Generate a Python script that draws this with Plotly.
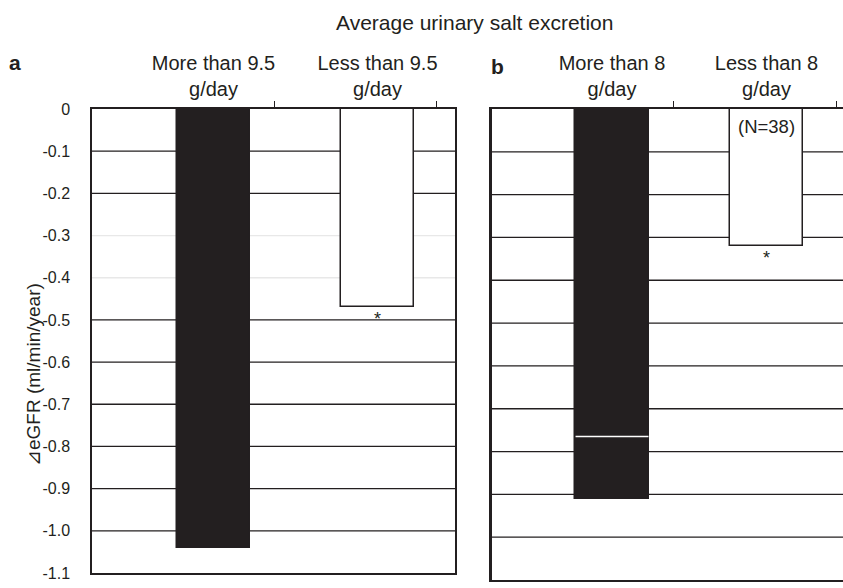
import plotly.graph_objects as go

# ---- data -------------------------------------------------------------
groups_a = ["More than 9.5<br>g/day", "Less than 9.5<br>g/day"]
groups_b = ["More than 8<br>g/day", "Less than 8<br>g/day"]
delta_egfr_a = [-1.04, -0.47]
delta_egfr_b = [-0.91, -0.32]
inner_mark_b = -0.765          # white rule inside the first bar of panel b
n_label_b = "(N=38)"
significant = [False, True]

y_ticks = [0, -0.1, -0.2, -0.3, -0.4, -0.5, -0.6, -0.7, -0.8, -0.9, -1.0, -1.1]
y_ticktext = ["0", "-0.1", "-0.2", "-0.3", "-0.4", "-0.5", "-0.6", "-0.7",
              "-0.8", "-0.9", "-1.0", "-1.1"]
grid_levels = [-0.1, -0.2, -0.3, -0.4, -0.5, -0.6, -0.7, -0.8, -0.9, -1.0]
faint_levels_a = [-0.3, -0.4]

# ---- styling ----------------------------------------------------------
INK = "#231f20"
FAINT = "#e8e8e8"
FONT = "Liberation Sans, Arial, Helvetica, sans-serif"
W, H = 843, 588

positions = [0, 1]
fills = [INK, "white"]

fig = go.Figure()


def add_panel(values, xa, ya, width):
    for pos, val, fill in zip(positions, values, fills):
        fig.add_trace(go.Bar(
            x=[pos], y=[val], width=width,
            marker=dict(color=fill, line=dict(color=INK, width=1.5)),
            xaxis=xa, yaxis=ya, showlegend=False, hoverinfo="skip",
        ))


add_panel(delta_egfr_a, "x", "y", 0.445)
add_panel(delta_egfr_b, "x2", "y2", 0.475)

# white rule across the dark bar in panel b
fig.add_trace(go.Scatter(
    x=[positions[0] - 0.236, positions[0] + 0.236], y=[inner_mark_b, inner_mark_b],
    mode="lines", line=dict(color="white", width=1.5),
    xaxis="x2", yaxis="y2", showlegend=False, hoverinfo="skip",
))

# transparent carriers so the group-label axes are drawn
for xa, ya in (("x3", "y"), ("x4", "y2")):
    fig.add_trace(go.Scatter(
        x=positions, y=[0, 0], mode="markers", marker=dict(opacity=0),
        xaxis=xa, yaxis=ya, showlegend=False, hoverinfo="skip",
    ))

# ---- axes -------------------------------------------------------------
dom_a = [92 / W, 455 / W]
dom_b = [492 / W, 1.0]
ydom_a = [1 - 573 / H, 1 - 109 / H]
ydom_b = [1 - 580 / H, 1 - 109 / H]

edge = dict(showline=True, linecolor=INK, zeroline=False, showgrid=False,
            automargin=False)
label_axis = dict(side="top", ticks="", showline=False, showgrid=False,
                  zeroline=False, automargin=False,
                  tickfont=dict(size=20, color=INK), ticklabelstandoff=8)

fig.update_layout(
    width=W, height=H,
    margin=dict(l=0, r=0, t=0, b=0),
    paper_bgcolor="white", plot_bgcolor="white",
    font=dict(family=FONT, color=INK),
    bargap=0,
    # panel a
    xaxis=dict(domain=dom_a, range=[-0.741, 1.4726], side="top", anchor="y",
               tickvals=[0.369, 1.357], ticks="outside", ticklen=6,
               tickcolor=INK, tickwidth=1, showticklabels=False,
               mirror=True, linewidth=2, **edge),
    xaxis3=dict(domain=dom_a, range=[-0.741, 1.4726], overlaying="x", anchor="y",
                tickvals=positions, ticktext=groups_a, **label_axis),
    yaxis=dict(domain=ydom_a, range=[-1.1, 0], anchor="x",
               tickvals=y_ticks, ticktext=y_ticktext, ticks="",
               tickfont=dict(size=16, color=INK), ticklabelstandoff=17,
               mirror=True, linewidth=1.5, **edge),
    # panel b
    xaxis2=dict(domain=dom_b, range=[-0.7767, 1.4951], side="top", anchor="y2",
                tickvals=[0.395, 1.45], ticks="outside", ticklen=6,
                tickcolor=INK, tickwidth=1, showticklabels=False,
                mirror=True, linewidth=2, **edge),
    xaxis4=dict(domain=dom_b, range=[-0.7767, 1.4951], overlaying="x2", anchor="y2",
                tickvals=positions, ticktext=groups_b, **label_axis),
    yaxis2=dict(domain=ydom_b, range=[-1.1, 0], anchor="x2",
                showticklabels=False, ticks="", linewidth=2.5, **edge),
)

# ---- horizontal rules behind the bars ---------------------------------
for lvl in grid_levels:
    fig.add_shape(type="line", xref="x domain", yref="y", x0=0, x1=1,
                  y0=lvl, y1=lvl, layer="below",
                  line=dict(color=FAINT if lvl in faint_levels_a else INK, width=1.3))
    fig.add_shape(type="line", xref="x2 domain", yref="y2", x0=0, x1=1,
                  y0=lvl, y1=lvl, layer="below", line=dict(color=INK, width=1.3))

# ---- text ---------------------------------------------------------------
for pos, val, sig in zip(positions, delta_egfr_a, significant):
    if sig:
        fig.add_annotation(x=pos, y=val, xref="x", yref="y", text="*",
                           showarrow=False, yanchor="top", yshift=0,
                           font=dict(size=18, color=INK))
for pos, val, sig in zip(positions, delta_egfr_b, significant):
    if sig:
        fig.add_annotation(x=pos, y=val, xref="x2", yref="y2", text="*",
                           showarrow=False, yanchor="top", yshift=0,
                           font=dict(size=18, color=INK))

fig.add_annotation(x=positions[1], y=0, xref="x2", yref="y2", text=n_label_b,
                   showarrow=False, yanchor="top", yshift=-5,
                   font=dict(size=18.5, color=INK))


def paper_text(text, px, py, size, angle=0):
    fig.add_annotation(x=px / W, y=1 - py / H, xref="paper", yref="paper",
                       xanchor="center", yanchor="middle", text=text,
                       textangle=angle, showarrow=False,
                       font=dict(size=size, color=INK))


paper_text("Average urinary salt excretion", 475, 22, 21)
paper_text("<b>a</b>", 15, 63, 21)
paper_text("<b>b</b>", 497, 66, 21)
paper_text("\u22bfeGFR (ml/min/year)", 33, 375, 19, angle=-90)

fig.write_html("out.html")
